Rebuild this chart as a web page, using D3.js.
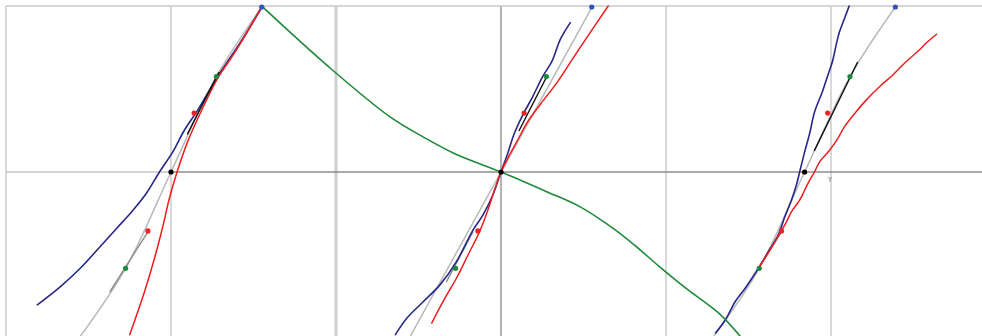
<!DOCTYPE html>
<html><head><meta charset="utf-8">
<script src="https://cdn.jsdelivr.net/npm/d3@7"></script>
<style>html,body{margin:0;padding:0;background:#fff;}svg{display:block;}</style>
</head><body>
<script>
// ---- data (math units) ----
const gridX = [-3, -2, -1, 0, 1, 2];
const gridY = [1, 0];
const axisLabel = "Y";
const panelCenters = [-2, 0, 1.84];
const redDots = [[-0.14, -0.355], [0.14, 0.355]];
const greenDots = [[-0.275, -0.58], [0.275, 0.575]];
const blueDots = [[0.55, 0.994]];
// gray reference curve per panel (offsets from the panel's black point)
const grayCurved = [[-0.55, -0.99], [-0.275, -0.58], [0, 0], [0.275, 0.575], [0.55, 0.994]];
const grayStraight = [[-0.55, -0.99], [0.55, 0.99]];
const blackSegs = [[[-1.90, 0.23], [-1.71, 0.60]], [[0.11, 0.25], [0.28, 0.58]], [[1.90, 0.13], [2.16, 0.66]]];
const darkSegs = [[[-2.14, -0.36], [-2.37, -0.72]], [[-0.17, -0.36], [-0.33, -0.66]], [[1.70, -0.36], [1.56, -0.58]]];
const greenCurve = [[-1.44,0.99],[-1.04,0.63],[-0.67,0.33],[-0.47,0.21],[-0.28,0.11],[0,0],[0.28,-0.12],[0.48,-0.21],[0.68,-0.34],[0.82,-0.45],[0.96,-0.57],[1.12,-0.70],[1.32,-0.85],[1.45,-0.99]];
const blue1 = [[-2.81,-0.80],[-2.67,-0.69],[-2.55,-0.58],[-2.43,-0.45],[-2.33,-0.34],[-2.23,-0.23],[-2.15,-0.13],[-2.07,0],[-1.99,0.12],[-1.92,0.25],[-1.84,0.37],[-1.72,0.57],[-1.58,0.78],[-1.45,0.99]];
const red1 = [[-2.25,-0.98],[-2.16,-0.72],[-2.10,-0.52],[-2.05,-0.33],[-2.01,-0.16],[-1.96,0.01],[-1.90,0.18],[-1.82,0.36],[-1.72,0.56],[-1.62,0.71],[-1.54,0.84],[-1.46,0.98]];
const blue2 = [[-0.64,-0.98],[-0.57,-0.88],[-0.47,-0.78],[-0.37,-0.68],[-0.27,-0.54],[-0.17,-0.35],[-0.11,-0.26],[-0.05,-0.14],[0,0],[0.04,0.11],[0.08,0.23],[0.13,0.34],[0.19,0.45],[0.25,0.57],[0.31,0.67],[0.36,0.80],[0.42,0.90]];
const red2 = [[-0.42,-0.91],[-0.34,-0.76],[-0.27,-0.64],[-0.20,-0.50],[-0.13,-0.36],[-0.08,-0.23],[-0.04,-0.11],[0,0],[0.05,0.10],[0.10,0.19],[0.16,0.30],[0.24,0.41],[0.34,0.54],[0.44,0.69],[0.54,0.84],[0.65,1.0]];
const blue3 = [[1.30,-0.97],[1.36,-0.89],[1.42,-0.78],[1.48,-0.70],[1.56,-0.58],[1.62,-0.48],[1.68,-0.38],[1.72,-0.27],[1.76,-0.17],[1.79,-0.08],[1.81,0],[1.84,0.12],[1.87,0.23],[1.90,0.36],[1.95,0.49],[1.98,0.58],[2.01,0.67],[2.03,0.76],[2.05,0.84],[2.08,0.92],[2.11,1.0]];
const red3 = [[1.56,-0.58],[1.63,-0.47],[1.69,-0.37],[1.73,-0.30],[1.76,-0.24],[1.81,-0.17],[1.84,-0.11],[1.87,-0.05],[1.90,0],[1.93,0.06],[1.99,0.13],[2.04,0.20],[2.08,0.27],[2.15,0.36],[2.21,0.43],[2.30,0.52],[2.37,0.58],[2.45,0.66],[2.53,0.73],[2.58,0.78],[2.64,0.83]];

// ---- drawing ----
const W = 982, H = 336;
const x = d3.scaleLinear().domain([-3, 3]).range([6, 996]);
const y = d3.scaleLinear().domain([-1, 1]).range([338, 6]);
const svg = d3.select("body").append("svg").attr("width", W).attr("height", H);

// grid
const gridStyle = {"-3": ["#cccccc", 1.5], "-2": ["#c4c4c4", 1.3], "-1": ["#cfcfcf", 3], "0": ["#9a9a9a", 1.5], "1": ["#c4c4c4", 1.3], "2": ["#c4c4c4", 1.3]};
svg.append("g").selectAll("line").data(gridX).join("line")
  .attr("x1", d => x(d)).attr("x2", d => x(d))
  .attr("y1", y(1)).attr("y2", H)
  .attr("stroke", d => gridStyle[d][0]).attr("stroke-width", d => gridStyle[d][1]);
svg.append("line").attr("x1", x(-3)).attr("x2", W).attr("y1", y(gridY[0])).attr("y2", y(gridY[0]))
  .attr("stroke", "#c8c8c8").attr("stroke-width", 1.6);
svg.append("line").attr("x1", x(-3)).attr("x2", x(-2)).attr("y1", y(gridY[1])).attr("y2", y(gridY[1]))
  .attr("stroke", "#c4c4c4").attr("stroke-width", 1.5);
svg.append("line").attr("x1", x(-2)).attr("x2", W).attr("y1", y(gridY[1])).attr("y2", y(gridY[1]))
  .attr("stroke", "#8c8c8c").attr("stroke-width", 1.5);
svg.append("text").attr("x", x(2) - 1).attr("y", y(0) + 10).attr("text-anchor", "middle")
  .attr("font-family", "DejaVu Sans").attr("font-size", 7).attr("fill", "#777").text(axisLabel);

const line = d3.line().x(d => x(d[0])).y(d => y(d[1])).curve(d3.curveCatmullRom.alpha(0.5));
const g = svg.append("g").attr("fill", "none").attr("stroke-linecap", "round");

// gray reference lines
panelCenters.forEach((c, i) => {
  const pts = (i === 1 ? grayStraight : grayCurved).map(p => [p[0] + c, p[1]]);
  g.append("path").attr("d", line(pts)).attr("stroke", "#b9b9b9").attr("stroke-width", 1.5);
});
darkSegs.forEach(s => g.append("path").attr("d", line(s)).attr("stroke", "#8a8a8a").attr("stroke-width", 1.4));

// curves
[blue1, blue2, blue3].forEach(d =>
  g.append("path").attr("d", line(d)).attr("stroke", "#27278a").attr("stroke-width", 1.6));
[red1, red2, red3].forEach(d =>
  g.append("path").attr("d", line(d)).attr("stroke", "#ee1d1d").attr("stroke-width", 1.5));
g.append("path").attr("d", line(greenCurve)).attr("stroke", "#1d8a3a").attr("stroke-width", 1.6);
blackSegs.forEach(s => g.append("path").attr("d", line(s)).attr("stroke", "#111").attr("stroke-width", 1.4));

// dots
const dots = [];
panelCenters.forEach(c => {
  redDots.forEach(p => dots.push([p[0] + c, p[1], "#ee2222"]));
  greenDots.forEach(p => dots.push([p[0] + c, p[1], "#1a8a3e"]));
  blueDots.forEach(p => dots.push([p[0] + c, p[1], "#3352c4"]));
  dots.push([c, 0, "#000000"]);
});
svg.append("g").selectAll("circle").data(dots).join("circle")
  .attr("cx", d => x(d[0])).attr("cy", d => y(d[1])).attr("r", 2.6).attr("fill", d => d[2]);
</script>
</body></html>
